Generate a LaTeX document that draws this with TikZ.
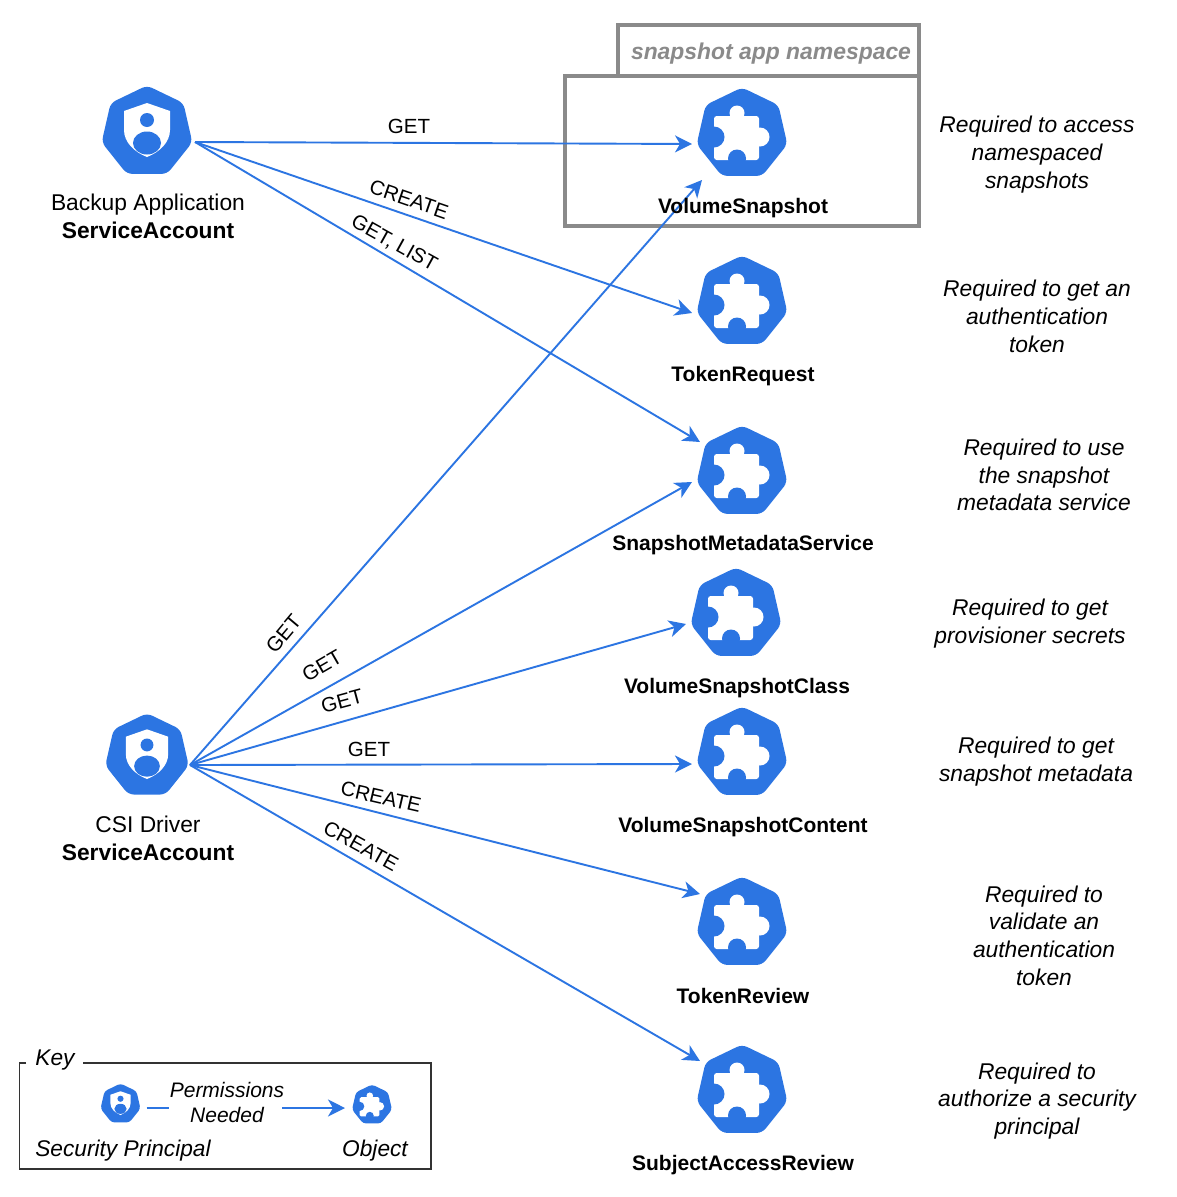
\documentclass[tikz,border=0pt]{standalone}
\usepackage{fontspec}
\setmainfont{Liberation Sans}
\usetikzlibrary{arrows.meta,calc}
\definecolor{kblue}{HTML}{2C75E2}
\definecolor{nsgray}{HTML}{8A8A8A}
\definecolor{keyline}{HTML}{333333}
\newcommand{\fs}[1]{\fontsize{#1}{27.7}\selectfont}
\newcommand{\heptfill}[2]{\fill[kblue,rounded corners=#2]
      (-90:#1) -- (-38.57:#1) -- (12.86:#1) -- (64.29:#1) -- (115.71:#1) -- (167.14:#1) -- (218.57:#1) -- cycle;}
\tikzset{
  iconbox/.style={circle,inner sep=0pt,minimum size=90pt},
  conn/.style={draw=kblue,line width=1.9pt,-{Stealth[length=17pt,width=17pt,inset=5pt]}},
  plainconn/.style={draw=kblue,line width=1.9pt},
  verb/.style={inner sep=0pt,font=\fs{20.5}},
  objname/.style={inner sep=0pt,font=\fs{21}\bfseries},
  note/.style={inner sep=0pt,align=center,font=\fs{22.8}\itshape},
  keytext/.style={inner sep=0pt,align=center,font=\fs{22.7}\itshape},
  subject/.style={inner sep=0pt,align=center,font=\fs{22.8}},
  nsbox/.style={draw=nsgray,line width=3.4pt,fill=white},
  pics/puzzle/.style n args={2}{code={
    \begin{scope}[scale=#1]
      \heptfill{46.5}{#2}
      \fill[white,rounded corners=#2*0.5] (-28,-18) rectangle (17,26);
      \fill[white] (-5,-21) circle (7.5);
      \fill[white] (18,3) circle (9.5);
      \fill[kblue] (-28,3) circle (10.5);
      \fill[kblue] (-5,24.5) circle (9);
    \end{scope}
  }},
  pics/guard/.style n args={2}{code={
    \begin{scope}[scale=#1]
      \heptfill{46.5}{#2}
      \fill[white] (0,-29) -- (23,-21) -- (23,-2) .. controls (23,10) and (13,20) .. (0,25)
        .. controls (-13,20) and (-23,10) .. (-23,-2) -- (-23,-21) -- cycle;
      \fill[kblue] (0,-12) circle (7);
      \fill[kblue] (0,11) ellipse (14 and 11.5);
    \end{scope}
  }},
}
\begin{document}
\begin{tikzpicture}[x=1pt,y=-1pt]
\useasboundingbox[fill=white] (0,0) rectangle (1176,1197);

% namespace folder
\draw[nsbox] (618,25) rectangle (919,76);
\draw[nsbox] (565,76) rectangle (919,226);
\node[inner sep=0pt,text=nsgray,font=\fs{22.9}\bfseries\itshape] (nslabel) at (771,54) {snapshot app namespace};

% icon anchors
\node[iconbox] (ba) at (147,132) {};
\node[iconbox] (csi) at (147,756) {};
\node[iconbox] (vs) at (742,134) {};
\node[iconbox] (tr) at (742,302) {};
\node[iconbox] (sms) at (742,472) {};
\node[iconbox] (vsc) at (736,614) {};
\node[iconbox] (vsct) at (742,753) {};
\node[iconbox] (trv) at (742,923) {};
\node[iconbox] (sar) at (742,1091) {};

\pic at (ba) {guard={1}{5.5pt}};
\pic at (csi) {guard={0.92}{5.5pt}};
\foreach \n in {vs,tr,sms,vsc,vsct,trv,sar} { \pic at (\n) {puzzle={1}{5.5pt}}; }

% connectors
\coordinate (bas) at ($(ba)+(48,10)$);
\coordinate (csis) at ($(csi)+(43,9)$);
\draw[conn] (bas) -- ($(vs)+(-50,10)$);
\draw[conn] (bas) -- ($(tr)+(-50,11)$);
\draw[conn] (bas) -- ($(sms)+(-42,-30)$);
\draw[conn] (csis) -- ($(vs)+(-40,46)$);
\draw[conn] (csis) -- ($(sms)+(-50,10)$);
\draw[conn] (csis) -- ($(vsc)+(-50,10)$);
\draw[conn] (csis) -- ($(vsct)+(-50,11)$);
\draw[conn] (csis) -- ($(trv)+(-42,-29)$);
\draw[conn] (csis) -- ($(sar)+(-42,-30)$);

% verbs
\node[verb] at (409,126.5) {GET};
\node[verb,rotate=-19] at (409,199.5) {CREATE};
\node[verb,rotate=-29] at (394,243.5) {GET, LIST};
\node[verb,rotate=50] at (283.5,634) {GET};
\node[verb,rotate=30] at (322,666) {GET};
\node[verb,rotate=15] at (342,701) {GET};
\node[verb] at (369,749.5) {GET};
\node[verb,rotate=-13] at (381,797) {CREATE};
\node[verb,rotate=-29] at (361,846) {CREATE};

% subject labels
\node[subject] (balabel) at (148,216.5) {Backup Application\\\textbf{ServiceAccount}};
\node[subject] (csilabel) at (148,838.5) {CSI Driver\\\textbf{ServiceAccount}};

% object names
\node[objname] at (743,208) {VolumeSnapshot};
\node[objname] at (743,376) {TokenRequest};
\node[objname] at (743,545) {SnapshotMetadataService};
\node[objname] at (737,688) {VolumeSnapshotClass};
\node[objname] at (743,827) {VolumeSnapshotContent};
\node[objname] at (743,996) {TokenReview};
\node[objname] at (743,1165) {SubjectAccessReview};

% notes
\node[note] at (1037,154.5) {Required to access\\namespaced\\snapshots};
\node[note] at (1037,316.5) {Required to get an\\authentication\\token};
\node[note] at (1044,475) {Required to use\\the snapshot\\metadata service};
\node[note] at (1030,623.5) {Required to get\\provisioner secrets};
\node[note] at (1036,761.5) {Required to get\\snapshot metadata};
\node[note] at (1044,935.5) {Required to\\validate an\\authentication\\token};
\node[note] at (1037,1101) {Required to\\authorize a security\\principal};

% key
\draw[keyline,line width=1.6pt] (26,1063) -- (19.5,1063) -- (19.5,1169) -- (431,1169) -- (431,1063) -- (83,1063);
\node[keytext] (keytitle) at (55,1060.5) {Key};
\node[iconbox,minimum size=38pt] (keyp) at (120.5,1104) {};
\node[iconbox,minimum size=38pt] (keyo) at (372,1105) {};
\pic at (keyp) {guard={0.44}{3pt}};
\pic at (keyo) {puzzle={0.44}{3pt}};
\node[inner sep=0pt,align=center,font=\fontsize{21}{25}\selectfont\itshape] (perm) at (227,1102) {Permissions\\Needed};
\draw[plainconn] ($(keyp)+(26,4)$) -- ($(perm.west)+(-1,6)$);
\draw[conn] ($(perm.east)+(-2,6)$) -- ($(keyo)+(-27,3)$);
\node[keytext] (keysp) at (123,1150.5) {Security Principal};
\node[keytext] (keyobj) at (375,1150.5) {Object};
\end{tikzpicture}
\end{document}
